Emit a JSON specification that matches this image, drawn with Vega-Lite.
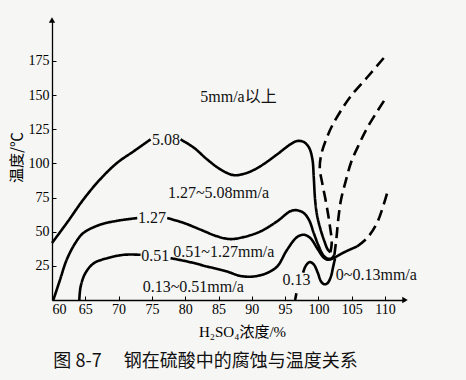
{
  "$schema": "https://vega.github.io/schema/vega-lite/v6.json",
  "autosize": {"type": "none"},
  "width": 353,
  "height": 280,
  "padding": {"left": 52, "top": 20, "right": 61, "bottom": 80},
  "background": "#f6f6f4",
  "config": {
    "view": {"stroke": null},
    "axis": {"domainColor": "#000", "domainWidth": 1.3, "tickColor": "#000", "labelColor": "#000", "titleColor": "#000", "grid": false, "titleFontWeight": "normal", "labelFont": "Liberation Serif", "labelFontSize": 14, "labelOverlap": false}
  },
  "title": {"text": "图 8-7　 钢在硫酸中的腐蚀与温度关系", "orient": "bottom", "anchor": "middle", "dx": -23, "offset": 14, "font": "Noto Sans CJK SC", "fontSize": 18, "fontWeight": "normal", "color": "#111"},
  "datasets": {
    "lines": [
      {"s":"a1","d":"solid","o":1,"x":60,"y":41.7},{"s":"a1","d":"solid","o":2,"x":62.4,"y":57.6},{"s":"a1","d":"solid","o":3,"x":64.7,"y":73.5},{"s":"a1","d":"solid","o":4,"x":67.2,"y":88.2},{"s":"a1","d":"solid","o":5,"x":69.8,"y":100.5},{"s":"a1","d":"solid","o":6,"x":72.3,"y":109},{"s":"a1","d":"solid","o":7,"x":74.8,"y":117.6},
      {"s":"a2","d":"solid","o":1,"x":79.3,"y":117.6},{"s":"a2","d":"solid","o":2,"x":81.3,"y":111.5},{"s":"a2","d":"solid","o":3,"x":83.3,"y":102.9},{"s":"a2","d":"solid","o":4,"x":85.3,"y":95.6},{"s":"a2","d":"solid","o":5,"x":87.3,"y":91.4},{"s":"a2","d":"solid","o":6,"x":89.3,"y":93.1},{"s":"a2","d":"solid","o":7,"x":91.3,"y":98},{"s":"a2","d":"solid","o":8,"x":93.8,"y":106.6},{"s":"a2","d":"solid","o":9,"x":95.8,"y":114},{"s":"a2","d":"solid","o":10,"x":96.8,"y":116.4},{"s":"a2","d":"solid","o":11,"x":97.8,"y":115.7},{"s":"a2","d":"solid","o":12,"x":98.6,"y":111.5},{"s":"a2","d":"solid","o":13,"x":99.1,"y":103},{"s":"a2","d":"solid","o":14,"x":99.3,"y":90},{"s":"a2","d":"solid","o":15,"x":99.5,"y":73.5},{"s":"a2","d":"solid","o":16,"x":99.8,"y":62},{"s":"a2","d":"solid","o":17,"x":100.3,"y":52},{"s":"a2","d":"solid","o":18,"x":100.9,"y":43},{"s":"a2","d":"solid","o":19,"x":101.4,"y":37},{"s":"a2","d":"solid","o":20,"x":101.8,"y":35},
      {"s":"a3","d":"dash","o":1,"x":101.8,"y":35},{"s":"a3","d":"dash","o":2,"x":102.0,"y":42},{"s":"a3","d":"dash","o":3,"x":101.7,"y":55},{"s":"a3","d":"dash","o":4,"x":101.2,"y":70},{"s":"a3","d":"dash","o":5,"x":100.6,"y":85},{"s":"a3","d":"dash","o":6,"x":100.2,"y":97},{"s":"a3","d":"dash","o":7,"x":100.5,"y":108},{"s":"a3","d":"dash","o":8,"x":101.2,"y":118},{"s":"a3","d":"dash","o":9,"x":102.0,"y":127},{"s":"a3","d":"dash","o":10,"x":103.3,"y":138},{"s":"a3","d":"dash","o":11,"x":104.9,"y":149.5},{"s":"a3","d":"dash","o":12,"x":107.5,"y":164},{"s":"a3","d":"dash","o":13,"x":109.9,"y":177.7},
      {"s":"b1","d":"solid","o":1,"x":60.2,"y":0},{"s":"b1","d":"solid","o":2,"x":61.2,"y":14.7},{"s":"b1","d":"solid","o":3,"x":62.2,"y":29.4},{"s":"b1","d":"solid","o":4,"x":63.5,"y":41.7},{"s":"b1","d":"solid","o":5,"x":64.7,"y":49},{"s":"b1","d":"solid","o":6,"x":67.2,"y":55.1},{"s":"b1","d":"solid","o":7,"x":69.8,"y":58},{"s":"b1","d":"solid","o":8,"x":72.8,"y":60},
      {"s":"b2","d":"solid","o":1,"x":77.3,"y":60},{"s":"b2","d":"solid","o":2,"x":79.8,"y":56.4},{"s":"b2","d":"solid","o":3,"x":82.3,"y":51.5},{"s":"b2","d":"solid","o":4,"x":84.8,"y":46.6},{"s":"b2","d":"solid","o":5,"x":86.8,"y":44.6},{"s":"b2","d":"solid","o":6,"x":88.8,"y":46.1},{"s":"b2","d":"solid","o":7,"x":91.3,"y":50.2},{"s":"b2","d":"solid","o":8,"x":93.8,"y":57.6},{"s":"b2","d":"solid","o":9,"x":95.8,"y":65},{"s":"b2","d":"solid","o":10,"x":96.8,"y":65.7},{"s":"b2","d":"solid","o":11,"x":97.8,"y":63.7},{"s":"b2","d":"solid","o":12,"x":98.6,"y":58.5},{"s":"b2","d":"solid","o":13,"x":99.3,"y":49},{"s":"b2","d":"solid","o":14,"x":100.0,"y":40},{"s":"b2","d":"solid","o":15,"x":100.7,"y":33},{"s":"b2","d":"solid","o":16,"x":101.3,"y":30.5},{"s":"b2","d":"solid","o":17,"x":101.9,"y":30.3},{"s":"b2","d":"solid","o":18,"x":102.4,"y":33},
      {"s":"b3","d":"dash","o":1,"x":102.4,"y":33},{"s":"b3","d":"dash","o":2,"x":102.7,"y":45},{"s":"b3","d":"dash","o":3,"x":103.0,"y":60},{"s":"b3","d":"dash","o":4,"x":103.4,"y":73.5},{"s":"b3","d":"dash","o":5,"x":104.1,"y":87},{"s":"b3","d":"dash","o":6,"x":104.9,"y":100.7},{"s":"b3","d":"dash","o":7,"x":106.1,"y":114},{"s":"b3","d":"dash","o":8,"x":107.5,"y":127.5},{"s":"b3","d":"dash","o":9,"x":110,"y":147},
      {"s":"c1","d":"solid","o":1,"x":64.1,"y":0},{"s":"c1","d":"solid","o":2,"x":64.3,"y":9.8},{"s":"c1","d":"solid","o":3,"x":65,"y":19.6},{"s":"c1","d":"solid","o":4,"x":66.3,"y":27},{"s":"c1","d":"solid","o":5,"x":68.3,"y":30.6},{"s":"c1","d":"solid","o":6,"x":70.8,"y":33.1},{"s":"c1","d":"solid","o":7,"x":73.3,"y":33.1},
      {"s":"c2","d":"solid","o":1,"x":77.8,"y":30.6},{"s":"c2","d":"solid","o":2,"x":80.3,"y":28.2},{"s":"c2","d":"solid","o":3,"x":83.3,"y":24.5},{"s":"c2","d":"solid","o":4,"x":86.3,"y":20.8},{"s":"c2","d":"solid","o":5,"x":88.3,"y":17.6},{"s":"c2","d":"solid","o":6,"x":90.3,"y":17.2},{"s":"c2","d":"solid","o":7,"x":92.2,"y":19.6},{"s":"c2","d":"solid","o":8,"x":93.8,"y":24.5},{"s":"c2","d":"solid","o":9,"x":95.3,"y":36.8},{"s":"c2","d":"solid","o":10,"x":96.8,"y":46.1},{"s":"c2","d":"solid","o":11,"x":97.8,"y":47.8},{"s":"c2","d":"solid","o":12,"x":98.8,"y":45.3},{"s":"c2","d":"solid","o":13,"x":99.8,"y":38},{"s":"c2","d":"solid","o":14,"x":100.8,"y":31},{"s":"c2","d":"solid","o":15,"x":101.5,"y":29.5},{"s":"c2","d":"solid","o":16,"x":102.4,"y":31},{"s":"c2","d":"solid","o":17,"x":103.8,"y":34.8},{"s":"c2","d":"solid","o":18,"x":105.8,"y":39.2},
      {"s":"c3","d":"dash","o":1,"x":105.8,"y":39.2},{"s":"c3","d":"dash","o":2,"x":107.3,"y":45.3},{"s":"c3","d":"dash","o":3,"x":108.8,"y":56.4},{"s":"c3","d":"dash","o":4,"x":110.3,"y":78},
      {"s":"d1","d":"solid","o":1,"x":96.5,"y":0},{"s":"d1","d":"solid","o":2,"x":96.7,"y":5},
      {"s":"d2","d":"solid","o":1,"x":97.7,"y":20},{"s":"d2","d":"solid","o":2,"x":98.1,"y":25},{"s":"d2","d":"solid","o":3,"x":98.7,"y":27.8},{"s":"d2","d":"solid","o":4,"x":99.3,"y":26},{"s":"d2","d":"solid","o":5,"x":99.9,"y":20},{"s":"d2","d":"solid","o":6,"x":100.4,"y":13.5},{"s":"d2","d":"solid","o":7,"x":100.9,"y":11.5},{"s":"d2","d":"solid","o":8,"x":101.4,"y":12.5},{"s":"d2","d":"solid","o":9,"x":101.9,"y":17.5},{"s":"d2","d":"solid","o":10,"x":102.2,"y":24},{"s":"d2","d":"solid","o":11,"x":102.5,"y":30.5}
    ],
    "labels": [
      {"x":88,"y":148.5,"t":"5mm/a以上"},
      {"x":77.1,"y":117,"t":"5.08"},
      {"x":85,"y":78,"t":"1.27~5.08mm/a"},
      {"x":75,"y":60,"t":"1.27"},
      {"x":85.8,"y":35,"t":"0.51~1.27mm/a"},
      {"x":75.5,"y":31.9,"t":"0.51"},
      {"x":81.2,"y":9.8,"t":"0.13~0.51mm/a"},
      {"x":96.7,"y":14.7,"t":"0.13"},
      {"x":108.7,"y":18.4,"t":"0~0.13mm/a"}
    ],
    "arrows": [
      {"x":60,"y":205,"sh":"triangle-up"},
      {"x":113,"y":0,"sh":"triangle-right"}
    ]
  },
  "encoding": {
    "x": {"field": "x", "type": "quantitative", "scale": {"domain": [60, 113], "nice": false, "zero": false},
          "axis": {"values": [60,65,70,75,80,85,90,95,100,105,110], "labelOverlap": false, "labelFont": "Liberation Serif", "labelFontSize": 14, "title": "H₂SO₄浓度/%", "titleFont": "Liberation Serif, Noto Sans CJK SC", "titleFontSize": 15, "titleX": 190, "titleY": 24, "tickSize": -4, "labelPadding": 6}},
    "y": {"field": "y", "type": "quantitative", "scale": {"domain": [0, 205], "nice": false},
          "axis": {"values": [25,50,75,100,125,150,175], "labelOverlap": false, "labelFont": "Liberation Serif", "labelFontSize": 14, "title": "温度/℃", "titleFont": "Noto Sans CJK SC", "titleFontSize": 15, "titleX": -36, "titleY": 137, "titleAngle": -90, "titleAlign": "center", "titleBaseline": "middle", "tickSize": -4, "labelPadding": 7}}
  },
  "layer": [
    {
      "data": {"name": "lines"},
      "mark": {"type": "line", "color": "#000", "strokeWidth": 2.6, "interpolate": "catmull-rom", "clip": false},
      "encoding": {
        "detail": {"field": "s"},
        "order": {"field": "o", "type": "quantitative"},
        "strokeDash": {"field": "d", "type": "nominal", "scale": {"domain": ["solid","dash"], "range": [[1,0],[11,6]]}, "legend": null}
      }
    },
    {
      "data": {"name": "labels"},
      "mark": {"type": "text", "font": "Liberation Serif, Noto Sans CJK SC", "fontSize": 16, "color": "#111"},
      "encoding": {
        "text": {"field": "t"}
      }
    },
    {
      "data": {"name": "arrows"},
      "mark": {"type": "point", "filled": true, "color": "#000", "size": 40, "opacity": 1, "clip": false},
      "encoding": {
        "shape": {"field": "sh", "type": "nominal", "scale": null}
      }
    }
  ]
}
